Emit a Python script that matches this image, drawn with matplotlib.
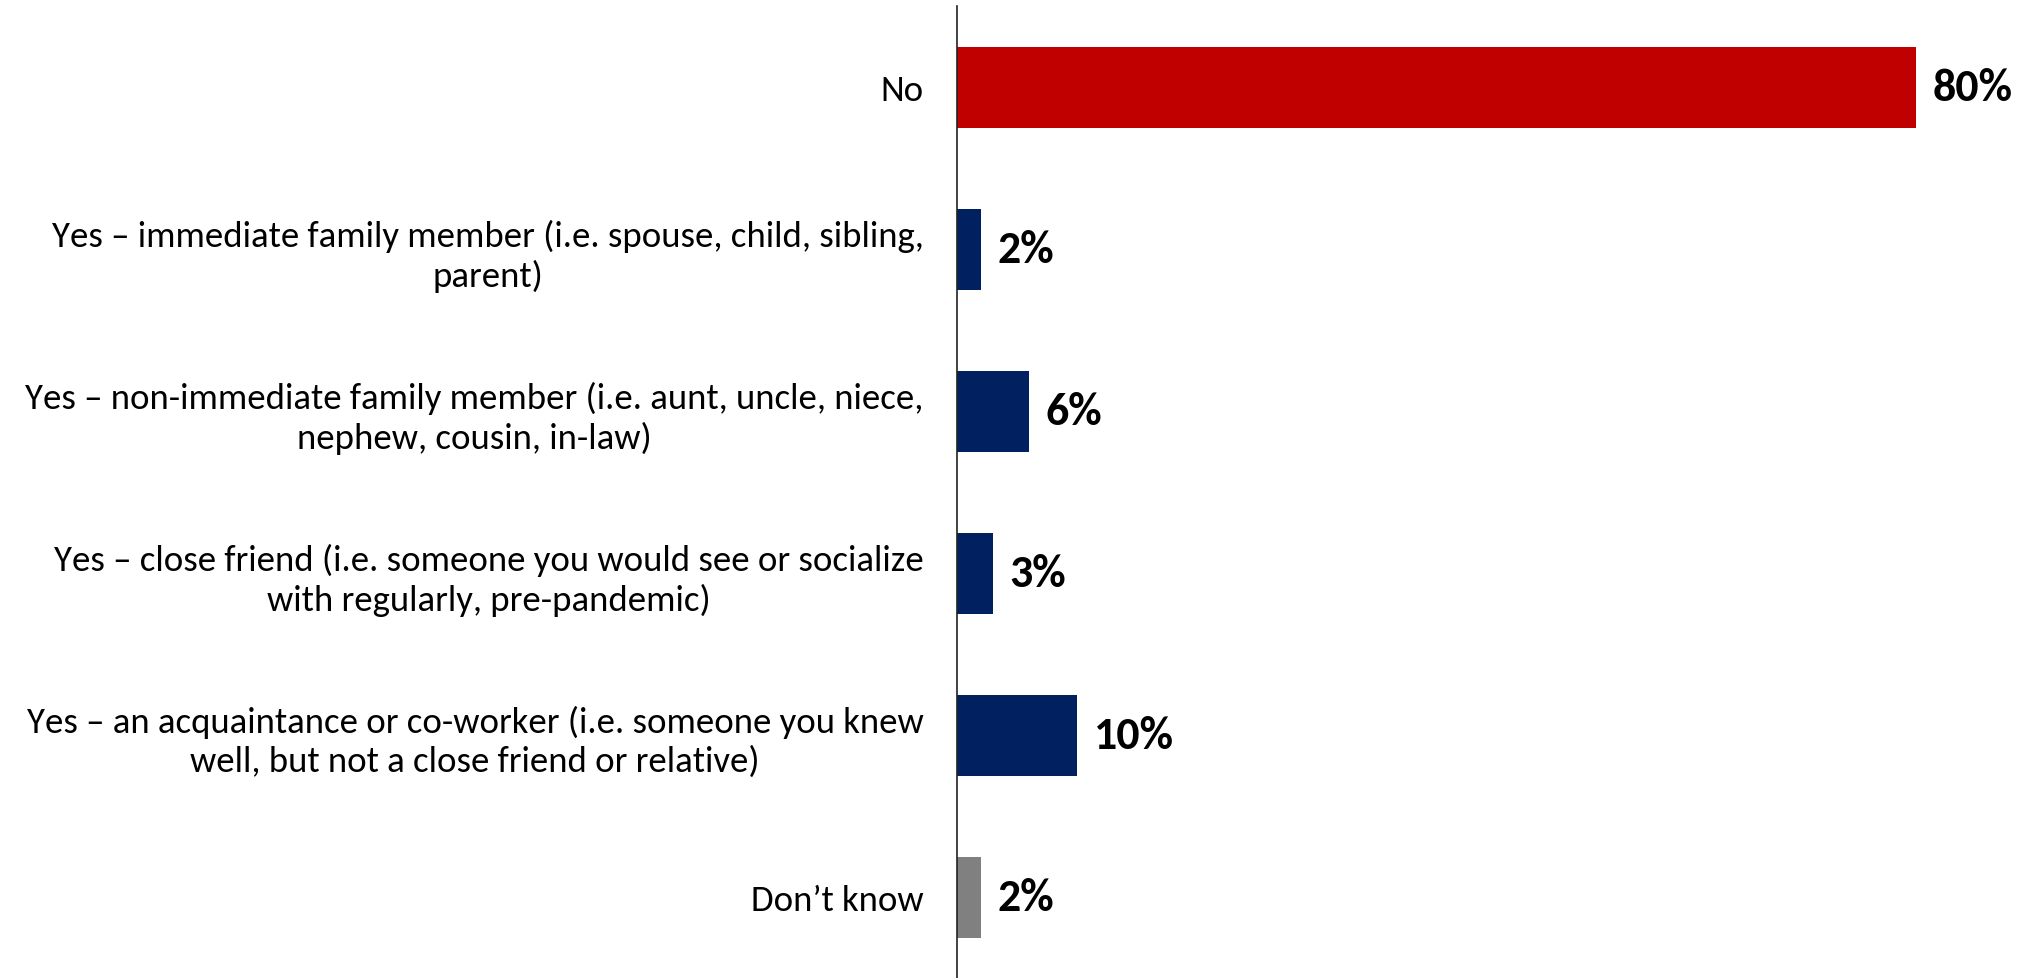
import matplotlib
matplotlib.use("Agg")
import matplotlib.pyplot as plt
from matplotlib import font_manager

categories = [
    "No",
    "Yes – immediate family member (i.e. spouse, child, sibling,\nparent)",
    "Yes – non-immediate family member (i.e. aunt, uncle, niece,\nnephew, cousin, in-law)",
    "Yes – close friend (i.e. someone you would see or socialize\nwith regularly, pre-pandemic)",
    "Yes – an acquaintance or co-worker (i.e. someone you knew\nwell, but not a close friend or relative)",
    "Don’t know",
]
values = [80, 2, 6, 3, 10, 2]
colors = ["#C00000", "#002060", "#002060", "#002060", "#002060", "#808080"]

installed = {f.name for f in font_manager.fontManager.ttflist}
font = "Carlito" if "Carlito" in installed else "Lato"
plt.rcParams["font.family"] = [font, "DejaVu Sans"]

fig = plt.figure(figsize=(20.24, 9.79), dpi=100)
ax = fig.add_axes([957 / 2024, 0, 1 - 957 / 2024, 1 - 7 / 979])

y = list(range(len(categories)))
ax.barh(y, values, height=0.5, color=colors)

for yi, v in zip(y, values):
    ax.annotate(f"{v}%", (v, yi), xytext=(12, 0), textcoords="offset points",
                ha="left", va="center", fontsize=33, fontweight="bold", color="black")

ax.set_ylim(5.5, -0.5)
ax.set_xlim(0, 89)
ax.set_yticks(y)
ax.set_yticklabels(categories, fontsize=26.5)
for t in ax.get_yticklabels():
    t.set_multialignment("center")
    t.set_linespacing(1.25)
ax.tick_params(axis="y", length=0, pad=24)
ax.set_xticks([])

for s in ["top", "right", "bottom"]:
    ax.spines[s].set_visible(False)
ax.spines["left"].set_linewidth(1.2)
ax.spines["left"].set_color("#222222")

fig.savefig("out.png", dpi=100)
